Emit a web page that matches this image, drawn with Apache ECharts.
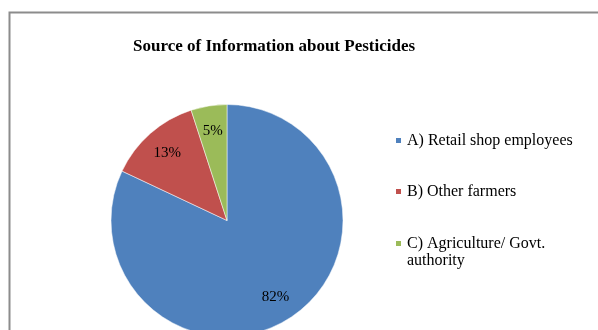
<!DOCTYPE html>
<html>
<head>
<meta charset="utf-8">
<script src="https://cdn.jsdelivr.net/npm/echarts@6/dist/echarts.min.js"></script>
<style>
  html, body { margin: 0; padding: 0; background: #fff; }
  #chart { width: 598px; height: 330px; }
</style>
</head>
<body>
<div id="chart"></div>
<script>
// Share of respondents by information source
const categories = ['A) Retail shop employees', 'B) Other farmers', 'C) Agriculture/ Govt. authority'];
const shares = [82, 13, 5];
const colors = ['#4F81BD', '#C0504D', '#9BBB59'];

const chart = echarts.init(document.getElementById('chart'));
const serif = '"Liberation Serif", "Times New Roman", serif';
const center = [227, 220.5];
const radius = 116;
const total = shares.reduce((a, b) => a + b, 0);

// Place value labels at ~78% of the radius along each slice's bisector
function labelPos(idx) {
  let before = 0;
  for (let i = 0; i < idx; i++) before += shares[i];
  const midFrac = (before + shares[idx] / 2) / total;
  const ang = (90 - midFrac * 360) * Math.PI / 180;
  const r = radius * 0.78;
  return { x: center[0] + r * Math.cos(ang), y: center[1] - r * Math.sin(ang) };
}

const legendText = { fontFamily: serif, fontSize: 16, color: '#000', width: 170, overflow: 'break', lineHeight: 17 };
const legendBase = {
  orient: 'vertical',
  left: 389,
  itemWidth: 7,
  itemHeight: 7,
  itemGap: 4,
  icon: 'rect',
  selectedMode: false,
  textStyle: legendText
};

chart.setOption({
  backgroundColor: '#fff',
  animation: false,
  color: colors,
  title: {
    text: 'Source of Information about Pesticides',
    left: 128,
    top: 33,
    textStyle: { fontFamily: serif, fontSize: 17, fontWeight: 'bold', color: '#000' }
  },
  legend: [
    Object.assign({}, legendBase, { top: 127, data: [categories[0]] }),
    Object.assign({}, legendBase, { top: 178, data: [categories[1]] }),
    // leading blank line keeps the marker level with the first text line
    Object.assign({}, legendBase, { top: 213, data: [categories[2]], formatter: name => '\n' + name })
  ],
  graphic: [{
    type: 'rect',
    silent: true,
    z: -1,
    shape: { x: 9.5, y: 12.5, width: 640, height: 400 },
    style: { fill: 'none', stroke: '#8c8c8c', lineWidth: 2 }
  }],
  series: [{
    type: 'pie',
    center: center,
    radius: [0, radius],
    startAngle: 90,
    clockwise: true,
    silent: true,
    data: categories.map((name, i) => ({ name: name, value: shares[i] })),
    itemStyle: { borderColor: '#fff', borderWidth: 0.5 },
    label: {
      show: true,
      position: 'inside',
      formatter: '{c}%',
      fontFamily: serif,
      fontSize: 15,
      color: '#000'
    },
    labelLine: { show: false },
    labelLayout: function (params) {
      const p = labelPos(params.dataIndex);
      return { x: p.x, y: p.y, align: 'center', verticalAlign: 'middle' };
    }
  }]
});
</script>
</body>
</html>
